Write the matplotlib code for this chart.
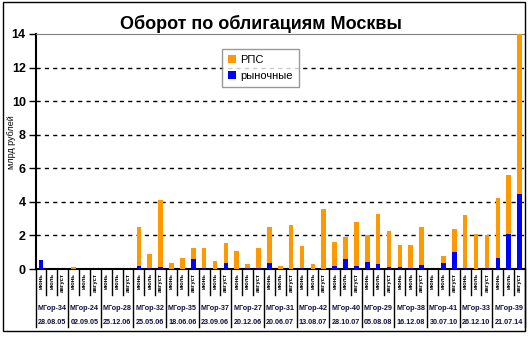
import matplotlib
matplotlib.use("Agg")
import matplotlib.pyplot as plt
from matplotlib.patches import Rectangle

plt.rcParams['font.family'] = ['Liberation Sans', 'DejaVu Sans']

# bond issues, placement dates and the three months shown for each
bonds = ["МГор-34", "МГор-24", "МГор-28", "МГор-32", "МГор-35", "МГор-37", "МГор-27", "МГор-31",
         "МГор-42", "МГор-40", "МГор-29", "МГор-38", "МГор-41", "МГор-33", "МГор-39"]
dates = ["28.08.05", "02.09.05", "25.12.06", "25.05.06", "18.06.06", "23.09.06", "20.12.06", "20.06.07",
         "13.08.07", "28.10.07", "05.08.08", "16.12.08", "30.07.10", "26.12.10", "21.07.14"]
months = ["июнь", "июль", "август"]

# turnover, bln rub, three values (Jun, Jul, Aug) per bond
market = [0.55, 0, 0,   0, 0, 0,   0, 0, 0,   0.18, 0.06, 0.12,   0, 0, 0.6,
          0.06, 0, 0.36,   0, 0.06, 0.06,   0.36, 0, 0,   0.06, 0, 0,   0.18, 0.6, 0.18,
          0.42, 0.3, 0.12,   0.12, 0.06, 0.24,   0, 0.36, 1.01,   0.06, 0, 0.06,   0.65, 2.08, 4.46]
rps = [0, 0, 0,   0.12, 0, 0,   0, 0, 0,   2.32, 0.83, 3.98,   0.36, 0.65, 0.65,
       1.19, 0.48, 1.18,   1.07, 0.24, 1.19,   2.14, 0.18, 2.61,   1.31, 0.30, 3.56,   1.42, 1.30, 2.61,
       1.60, 2.97, 2.14,   1.31, 1.37, 2.26,   0, 0.41, 1.37,   3.15, 2.08, 1.96,   3.57, 3.50, 9.54]

W, H = 528, 337
fig = plt.figure(figsize=(W / 100, H / 100), dpi=100)
ax = fig.add_axes([35.5 / W, 1 - 269 / H, (525 - 35.5) / W, (269 - 34) / H])

x = list(range(len(market)))
ax.bar(x, rps, width=0.42, bottom=market, color='#FF9900', label='РПС', zorder=3)
ax.bar(x, market, width=0.42, color='#0000FF', label='рыночные', zorder=3)

ax.set_xlim(-0.5, len(x) - 0.5)
ax.set_ylim(0, 14)
ax.set_yticks(range(0, 15, 2))
ax.tick_params(axis='y', length=5, width=1, pad=2, labelsize=9)
for lbl in ax.get_yticklabels():
    lbl.set_fontweight('bold')
for y in range(2, 14, 2):
    ax.axhline(y, color='black', lw=1, ls=(0, (3, 3)), zorder=1)

ax.spines['left'].set_linewidth(1.5)
ax.spines['bottom'].set_linewidth(1.5)
ax.spines['top'].set_color('#808080')
ax.spines['right'].set_visible(False)

ax.set_ylabel('млрд рублей', fontsize=6.5)
ax.yaxis.set_label_coords((16 - 35.5) / (525 - 35.5), (269 - 142) / 235)

# multi-level category axis: months, bond names, dates
ax.set_xticks([])
tr = ax.get_xaxis_transform()
px = 1 / 235
for i in x:
    ax.text(i, -4 * px, months[i % 3], rotation=90, ha='center', va='top',
            fontsize=4.3, fontweight='bold', transform=tr)
for k in range(len(x) + 1):
    depth = -58 * px if k % 3 == 0 else -26 * px
    ax.plot([k - 0.5, k - 0.5], [0, depth], color='black', lw=1, transform=tr, clip_on=False)
for g, (b, d) in enumerate(zip(bonds, dates)):
    ax.text(3 * g + 1, -39 * px, b, ha='center', va='center', fontsize=5.2,
            fontweight='bold', color='#101040', transform=tr)
    ax.text(3 * g + 1, -53 * px, d, ha='center', va='center', fontsize=5.2,
            fontweight='bold', color='#101040', transform=tr)

leg = ax.legend(loc='upper left', bbox_to_anchor=((222 - 35.5) / (525 - 35.5), (269 - 49) / 235),
                fontsize=8, frameon=True, fancybox=False, edgecolor='#808080',
                handlelength=0.7, handleheight=0.7, handletextpad=0.4, borderpad=0.55,
                labelspacing=0.55, borderaxespad=0)
leg.get_frame().set_linewidth(1)

fig.text(261 / W, 1 - 24 / H, 'Оборот по облигациям Москвы', ha='center', va='center',
         fontsize=13, fontweight='bold')

# chart area border
fig.patches.append(Rectangle((2.5 / W, 6 / H), (525 - 2.5) / W, (331 - 2) / H,
                             transform=fig.transFigure, fill=False, edgecolor='black', lw=1))

fig.savefig('out.png', dpi=100)
